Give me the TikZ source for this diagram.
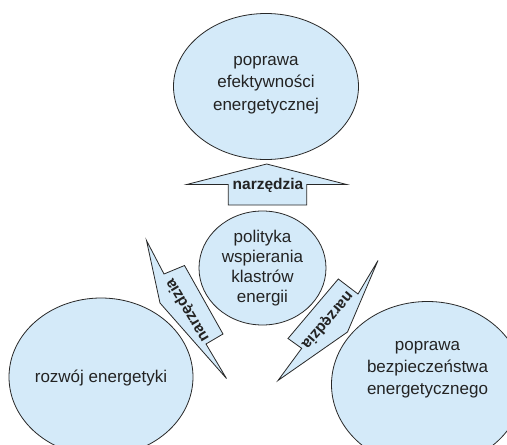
\documentclass[tikz,border=0pt]{standalone}
\usepackage{fontspec}
\setmainfont{Liberation Sans}
\usetikzlibrary{shapes.geometric}
\definecolor{bubblefill}{RGB}{212,234,249}
\definecolor{inkline}{RGB}{40,40,40}
\definecolor{inktext}{RGB}{35,35,35}
\begin{document}
\begin{tikzpicture}[x=1pt,y=-1pt,
  bubble/.style={ellipse, draw=inkline, fill=bubblefill, line width=0.8pt, inner sep=0pt},
  bubbletext/.style={align=center, text=inktext, font=\fontsize{17}{22.5}\selectfont, inner sep=0pt},
  toolshape/.style={draw=inkline, fill=bubblefill, line width=0.8pt, line join=miter},
  tooltext/.style={text=inktext, font=\fontsize{15.5}{18}\selectfont\bfseries, inner sep=0pt}]
\useasboundingbox (0,0) rectangle (507,445);
\clip (0,0) rectangle (507,445);
\fill[white] (0,0) rectangle (507,445);

% ellipses
\node[bubble, minimum width=185pt, minimum height=146pt] (goalTop) at (266,86.5) {};
\node[bubble, minimum width=127pt, minimum height=114pt] (policy) at (262.5,268) {};
\node[bubble, minimum width=184pt, minimum height=158pt] (goalLeft) at (101,377) {};
\node[bubble, minimum width=192pt, minimum height=166pt] (goalRight) at (427.5,384.5) {};

\node[bubbletext] (tTop) at (266,83) {\strut poprawa\\efektywności\\energetycznej\strut};
\node[bubbletext, font=\fontsize{17}{20}\selectfont] (tPolicy) at (262.5,268.3) {\strut polityka\\wspierania\\klastrów\\energii\strut};
\node[bubbletext] (tLeft) at (101,378.3) {\strut rozwój energetyki};
\node[bubbletext, font=\fontsize{17}{22}\selectfont] (tRight) at (427.5,368.3) {\strut poprawa\\bezpieczeństwa\\energetycznego\strut};

% top arrow
\draw[toolshape] (266.7,164) -- (346.7,184.5) -- (306.7,184.5) -- (306.7,205)
  -- (228.3,205) -- (228.3,184.5) -- (186.7,184.5) -- cycle;
\node[tooltext] (aTop) at (268,186) {\strut narzędzia};

% left tool shape
\draw[toolshape] (146.5,240.5) -- (164,274) -- (184.5,265.5) -- (223,334)
  -- (206,344) -- (226.5,378.5) -- (160,303) -- cycle;
\node[tooltext, rotate=121] (aLeft) at (188,310) {\strut narzędzia};

% right tool shape
\draw[toolshape] (378,260.5) -- (358,294) -- (338.3,279) -- (288,338.5)
  -- (301.7,348.3) -- (278,380.5) -- (347.5,332) -- cycle;
\node[tooltext, rotate=229.5] (aRight) at (327,320) {\strut narzędzia};
\end{tikzpicture}
\end{document}
